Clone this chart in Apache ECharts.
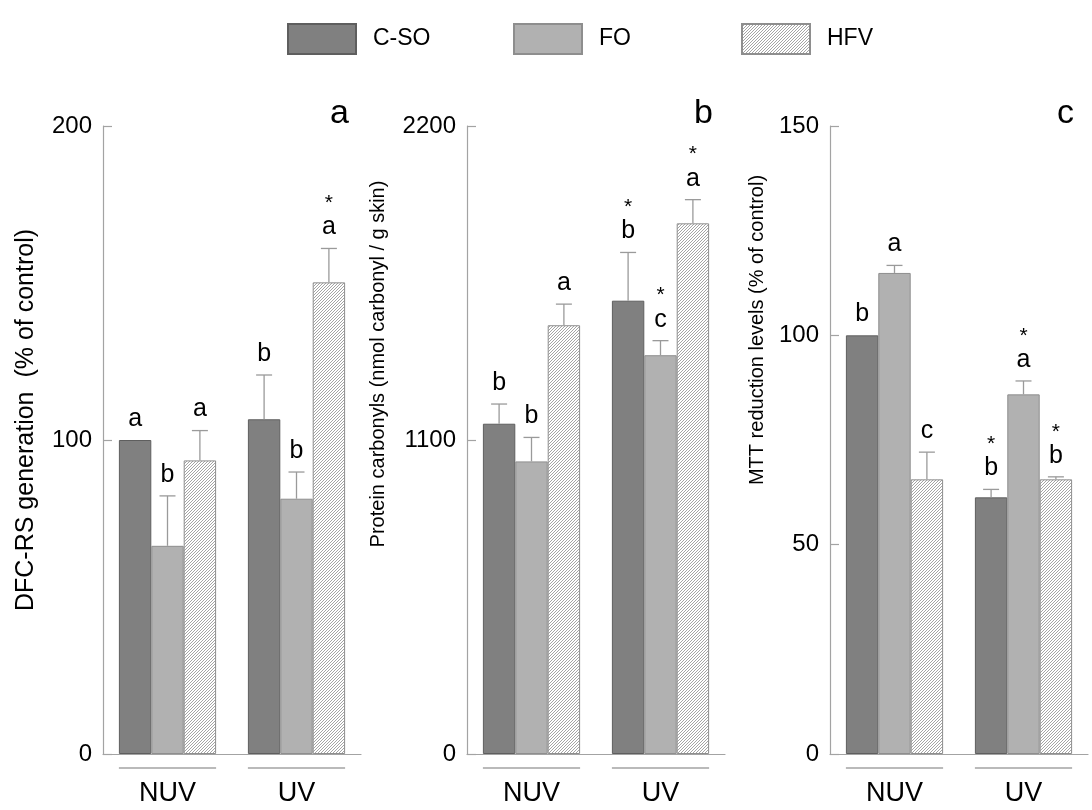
<!DOCTYPE html>
<html>
<head>
<meta charset="utf-8">
<script src="https://cdn.jsdelivr.net/npm/echarts@6/dist/echarts.min.js"></script>
<style>
html,body{margin:0;padding:0;background:#fff;}
#chart{width:1092px;height:810px;}
</style>
</head>
<body>
<div id="chart"></div>
<script>
// ---- data ----
const categories = ['NUV', 'UV'];
const groupNames = ['C-SO', 'FO', 'HFV'];

// panel a: DFC-RS generation (% of control)
const dfcMean = [[100, 106.6], [66.3, 81.3], [93.5, 150.2]];
const dfcErr  = [[0, 14.1], [15.9, 8.5], [9.5, 10.8]];
const dfcLetters = [['a', 'b'], ['b', 'b'], ['a', 'a']];
const dfcStars   = [['', ''], ['', ''], ['', '*']];

// panel b: Protein carbonyls (nmol carbonyl / g skin)
const pcMean = [[1157, 1588], [1025, 1397], [1502, 1859]];
const pcErr  = [[69, 169], [84, 51], [74, 83]];
const pcLetters = [['b', 'b'], ['b', 'c'], ['a', 'a']];
const pcStars   = [['', '*'], ['', '*'], ['', '*']];

// panel c: MTT reduction levels (% of control)
const mttMean = [[100, 61.3], [114.9, 85.9], [65.6, 65.6]];
const mttErr  = [[0, 1.9], [1.8, 3.2], [6.5, 0.6]];
const mttLetters = [['b', 'b'], ['a', 'a'], ['c', 'b']];
const mttStars   = [['', '*'], ['', '*'], ['', '*']];

const panelLabels = ['a', 'b', 'c'];
const yTitles = ['DFC-RS generation  (% of control)', 'Protein carbonyls (nmol carbonyl / g skin)', 'MTT reduction levels (% of control)'];
const yMax = [200, 2200, 150];
const yInterval = [100, 1100, 50];

// ---- styling ----
const FONT = '"Liberation Sans", Arial, sans-serif';
const AXIS_COLOR = '#a3a3a3';
const BAR_W = 32.4;
const gridLeft = [103, 467, 830];
const GRID_W = 258;
const legendLeft = [282, 508, 736];

const hatch = document.createElement('canvas');
hatch.width = 3; hatch.height = 3;
(function(){
  const ctx = hatch.getContext('2d');
  ctx.fillStyle = '#ffffff'; ctx.fillRect(0,0,3,3);
  ctx.fillStyle = '#a4a4a4';
  for (let i = 0; i < 3; i++) ctx.fillRect(i, 2 - i, 1, 1);
})();

const fills = ['#808080', '#b1b1b1', {image: hatch, repeat: 'repeat'}];
const borders = ['#5e5e5e', '#8e8e8e', '#8e8e8e'];

const panels = [
  {mean: dfcMean, err: dfcErr, letters: dfcLetters, stars: dfcStars},
  {mean: pcMean, err: pcErr, letters: pcLetters, stars: pcStars},
  {mean: mttMean, err: mttErr, letters: mttLetters, stars: mttStars}
];

const nameCfg = [
  {size: 25, gap: 64, shift: 20},
  {size: 20, gap: 79, shift: 76},
  {size: 20, gap: 63, shift: 110}
];

const grids = [], xAxes = [], yAxes = [], series = [], titles = [];

panels.forEach((pd, p) => {
  grids.push({left: gridLeft[p], width: GRID_W, top: 126, bottom: 56, containLabel: false});
  xAxes.push({
    type: 'category', gridIndex: p, data: categories,
    axisLine: {show: true, lineStyle: {color: AXIS_COLOR, width: 1.2}},
    axisTick: {show: false},
    axisLabel: {color: '#000', fontFamily: FONT, fontSize: 27, margin: 26}
  });
  yAxes.push({
    type: 'value', gridIndex: p, min: 0, max: yMax[p], interval: yInterval[p],
    name: yTitles[p], nameLocation: 'middle', nameRotate: 90, nameGap: nameCfg[p].gap,
    nameTextStyle: {color: '#000', fontFamily: FONT, fontSize: nameCfg[p].size, padding: [0, 0, 0, nameCfg[p].shift * 2]},
    axisLine: {show: true, lineStyle: {color: AXIS_COLOR, width: 1.2}},
    axisTick: {show: true, inside: true, length: 9, lineStyle: {color: AXIS_COLOR, width: 1.2}},
    axisLabel: {color: '#000', fontFamily: FONT, fontSize: 24, margin: 11, formatter: v => String(v)},
    splitLine: {show: false}
  });
  titles.push({
    text: panelLabels[p], left: gridLeft[p] + 227, top: 97, padding: 0,
    textStyle: {fontFamily: FONT, fontSize: 34, fontWeight: 'normal', color: '#000'}
  });

  groupNames.forEach((g, s) => {
    series.push({
      type: 'bar', name: g, xAxisIndex: p, yAxisIndex: p,
      data: pd.mean[s], barWidth: BAR_W, barGap: '0%',
      itemStyle: {color: fills[s], borderColor: borders[s], borderWidth: 1},
      emphasis: {disabled: true}, z: 2
    });
  });

  groupNames.forEach((g, s) => {
    series.push({
      type: 'custom', name: g + ' err ' + p, xAxisIndex: p, yAxisIndex: p,
      silent: true, clip: false, z: 5,
      data: categories.map((c, i) => [i, pd.mean[s][i] + pd.err[s][i]]),
      renderItem: function (params, api) {
        const i = params.dataIndex;
        const m = pd.mean[s][i], e = pd.err[s][i];
        const base = api.coord([i, m]);
        const top = api.coord([i, m + e]);
        const x = base[0] + (s - 1) * BAR_W;
        const children = [];
        if (e > 0) {
          children.push({type: 'line', shape: {x1: x, y1: base[1], x2: x, y2: top[1]}, style: {stroke: '#9a9a9a', lineWidth: 1.3}});
          children.push({type: 'line', shape: {x1: x - 8, y1: top[1], x2: x + 8, y2: top[1]}, style: {stroke: '#9a9a9a', lineWidth: 1.3}});
        }
        children.push({type: 'text', x: x, y: top[1] - 21, style: {text: pd.letters[s][i], font: '25px ' + FONT, fill: '#000', align: 'center', verticalAlign: 'middle'}});
        if (pd.stars[s][i]) {
          children.push({type: 'text', x: x, y: top[1] - 45, style: {text: pd.stars[s][i], font: '21px ' + FONT, fill: '#000', align: 'center', verticalAlign: 'middle'}});
        }
        return {type: 'group', children: children};
      }
    });
  });

  series.push({
    type: 'custom', name: 'underline ' + p, xAxisIndex: p, yAxisIndex: p,
    silent: true, clip: false,
    data: categories.map((c, i) => [i, 0]),
    renderItem: function (params, api) {
      const pt = api.coord([params.dataIndex, 0]);
      return {type: 'line', shape: {x1: pt[0] - 1.5 * BAR_W, y1: pt[1] + 14, x2: pt[0] + 1.5 * BAR_W, y2: pt[1] + 14},
        style: {stroke: AXIS_COLOR, lineWidth: 1.5}};
    }
  });
});

const legends = groupNames.map((g, k) => ({
  data: [g], left: legendLeft[k], top: 18, icon: 'rect', itemWidth: 68, itemHeight: 30,
  selectedMode: false,
  textStyle: {fontFamily: FONT, fontSize: 23, color: '#000', padding: [12, 0, 0, 12]}
}));

const chart = echarts.init(document.getElementById('chart'), null, {renderer: 'canvas'});
chart.setOption({
  animation: false,
  backgroundColor: '#fff',
  title: titles,
  legend: legends,
  grid: grids,
  xAxis: xAxes,
  yAxis: yAxes,
  series: series
});
</script>
</body>
</html>
